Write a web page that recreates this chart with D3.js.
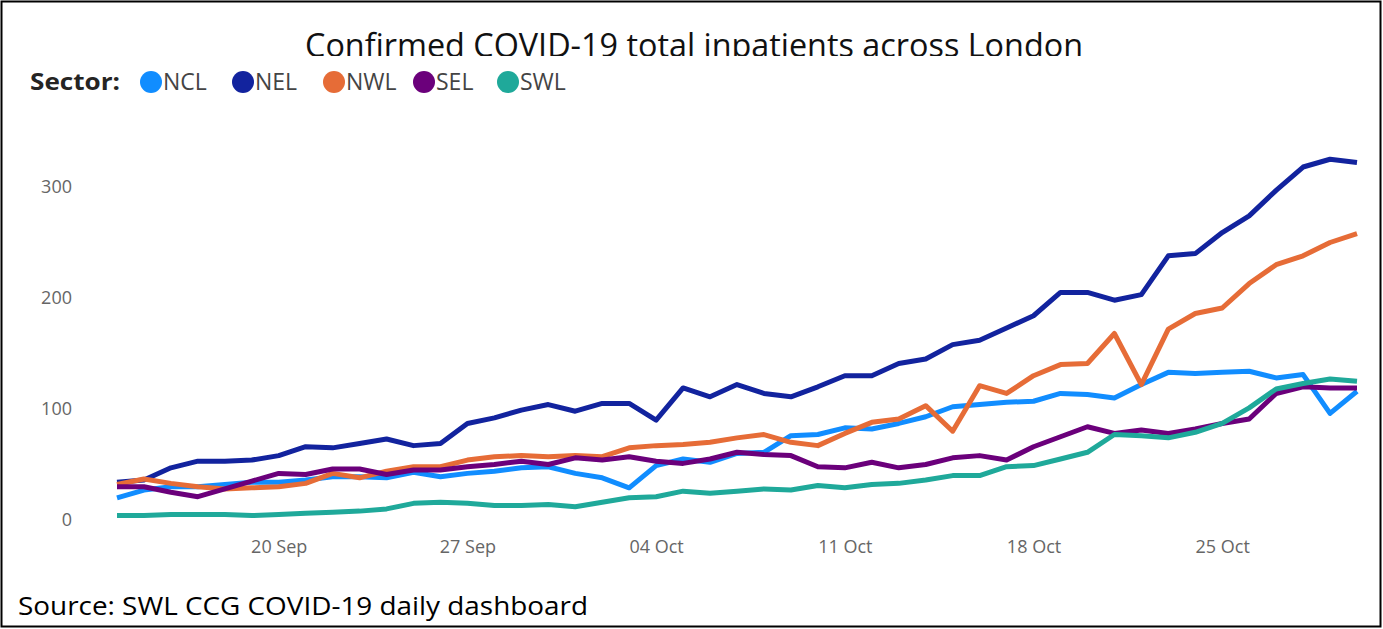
<!DOCTYPE html>
<html>
<head>
<meta charset="utf-8">
<script src="https://cdn.jsdelivr.net/npm/d3@7"></script>
<style>
  body { margin: 0; background: #fff; }
  svg { display: block; }
</style>
</head>
<body>
<svg id="chart"></svg>
<script>
let width = 1383;
let height = 629;

// daily values, 14 Sep 2020 -> 30 Oct 2020
let startDate = new Date(2020, 8, 14);
let endDate = new Date(2020, 9, 30);

let sectors = ['NCL', 'NEL', 'NWL', 'SEL', 'SWL'];
let sectorColors = ['#118DFF', '#12239E', '#E66C37', '#6B007B', '#1FA99A'];

let ncl = [20, 27, 30, 30, 32, 34, 34, 36, 39, 39, 38, 43, 39, 42, 44, 47, 48, 42, 38, 29,
  49, 55, 52, 60, 61, 76, 77, 83, 82, 87, 93, 102, 104, 106, 107, 114, 113, 110, 122, 133,
  132, 133, 134, 128, 131, 96, 116];
let nel = [34, 36, 47, 53, 53, 54, 58, 66, 65, 69, 73, 67, 69, 87, 92, 99, 104, 98, 105, 105,
  90, 119, 111, 122, 114, 111, 120, 130, 130, 141, 145, 158, 162, 173, 184, 205, 205, 198, 203, 238,
  240, 259, 274, 297, 318, 325, 322];
let nwl = [32, 37, 33, 30, 28, 29, 30, 33, 42, 38, 44, 48, 48, 54, 57, 58, 57, 58, 57, 65,
  67, 68, 70, 74, 77, 70, 67, 78, 88, 91, 103, 80, 121, 114, 130, 140, 141, 168, 122, 172,
  186, 191, 213, 230, 238, 250, 258];
let sel = [30, 30, 25, 21, 28, 35, 42, 41, 46, 46, 41, 45, 45, 48, 50, 53, 50, 56, 54, 57,
  53, 51, 55, 61, 59, 58, 48, 47, 52, 47, 50, 56, 58, 54, 66, 75, 84, 78, 81, 78,
  82, 87, 91, 114, 120, 119, 119];
let swl = [4, 4, 5, 5, 5, 4, 5, 6, 7, 8, 10, 15, 16, 15, 13, 13, 14, 12, 16, 20,
  21, 26, 24, 26, 28, 27, 31, 29, 32, 33, 36, 40, 40, 48, 49, 55, 61, 77, 76, 74,
  79, 87, 101, 118, 123, 127, 125];

let yTicks = [0, 100, 200, 300];

let titleText = 'Confirmed COVID-19 total inpatients across London';
let sourceText = 'Source: SWL CCG COVID-19 daily dashboard';

let dates = d3.timeDay.range(startDate, d3.timeDay.offset(endDate, 1));
let seriesValues = [ncl, nel, nwl, sel, swl];
let series = sectors.map((name, i) => ({
  name: name,
  color: sectorColors[i],
  values: seriesValues[i].map((v, j) => ({ date: dates[j], value: v }))
}));

let svg = d3.select('#chart')
  .attr('width', width)
  .attr('height', height);

// scales
let x = d3.scaleTime()
  .domain([startDate, endDate])
  .range([117, 1357]);

let y = d3.scaleLinear()
  .domain([0, 300])
  .range([520, 187]);

// title, cut off at the bottom like the screenshot
svg.append('clipPath')
  .attr('id', 'title-clip')
  .append('rect')
    .attr('x', 0)
    .attr('y', 0)
    .attr('width', width)
    .attr('height', 56);

svg.append('text')
  .attr('clip-path', 'url(#title-clip)')
  .attr('x', 305)
  .attr('y', 57)
  .attr('textLength', 778)
  .attr('lengthAdjust', 'spacingAndGlyphs')
  .style('font-family', '"Open Sans", "Liberation Sans", sans-serif')
  .style('font-size', '33px')
  .style('fill', '#111')
  .text(titleText);

// legend
let legend = svg.append('g')
  .attr('transform', 'translate(0, 82)');

legend.append('text')
  .attr('x', 30)
  .attr('y', 8)
  .attr('textLength', 90)
  .attr('lengthAdjust', 'spacingAndGlyphs')
  .style('font-family', '"Open Sans", sans-serif')
  .style('font-weight', 'bold')
  .style('font-size', '23px')
  .style('fill', '#252423')
  .text('Sector:');

let legendX = [151, 243, 334, 424, 508];

let legendItem = legend.selectAll('.legend-item')
  .data(series)
  .enter()
  .append('g')
    .classed('legend-item', true)
    .attr('transform', (d, i) => `translate(${legendX[i]}, 0)`);

legendItem.append('circle')
  .attr('r', 11)
  .attr('fill', d => d.color);

legendItem.append('text')
  .attr('x', 12)
  .attr('y', 8)
  .style('font-family', '"Open Sans", sans-serif')
  .style('font-size', '23px')
  .style('fill', '#444')
  .text(d => d.name);

// axes
let yAxis = d3.axisLeft(y)
  .tickValues(yTicks)
  .tickSize(0)
  .tickPadding(0);

svg.append('g')
  .attr('transform', 'translate(72, 0)')
  .call(yAxis)
  .call(g => g.select('.domain').remove())
  .selectAll('text')
    .style('font-family', '"Open Sans", sans-serif')
    .style('font-size', '18px')
    .style('fill', '#666');

let xAxis = d3.axisBottom(x)
  .ticks(d3.timeWeek.every(1))
  .tickFormat(d3.timeFormat('%d %b'))
  .tickSize(0)
  .tickPadding(0);

svg.append('g')
  .attr('transform', 'translate(0, 540)')
  .call(xAxis)
  .call(g => g.select('.domain').remove())
  .selectAll('text')
    .style('font-family', '"Open Sans", sans-serif')
    .style('font-size', '18px')
    .style('fill', '#666');

// lines
let line = d3.line()
  .x(d => x(d.date))
  .y(d => y(d.value));

svg.append('g')
  .selectAll('path')
  .data(series)
  .enter()
  .append('path')
    .attr('fill', 'none')
    .attr('stroke', d => d.color)
    .attr('stroke-width', 5)
    .attr('stroke-linejoin', 'round')
    .attr('d', d => line(d.values));

// source note
svg.append('text')
  .attr('x', 18)
  .attr('y', 615)
  .attr('textLength', 570)
  .attr('lengthAdjust', 'spacingAndGlyphs')
  .style('font-family', '"Open Sans", "Liberation Sans", sans-serif')
  .style('font-size', '25px')
  .style('fill', '#000')
  .text(sourceText);

// outer frame
svg.append('rect')
  .attr('x', 1.5)
  .attr('y', 1.5)
  .attr('width', width - 4)
  .attr('height', height - 4)
  .attr('fill', 'none')
  .attr('stroke', '#000')
  .attr('stroke-width', 2);
</script>
</body>
</html>
